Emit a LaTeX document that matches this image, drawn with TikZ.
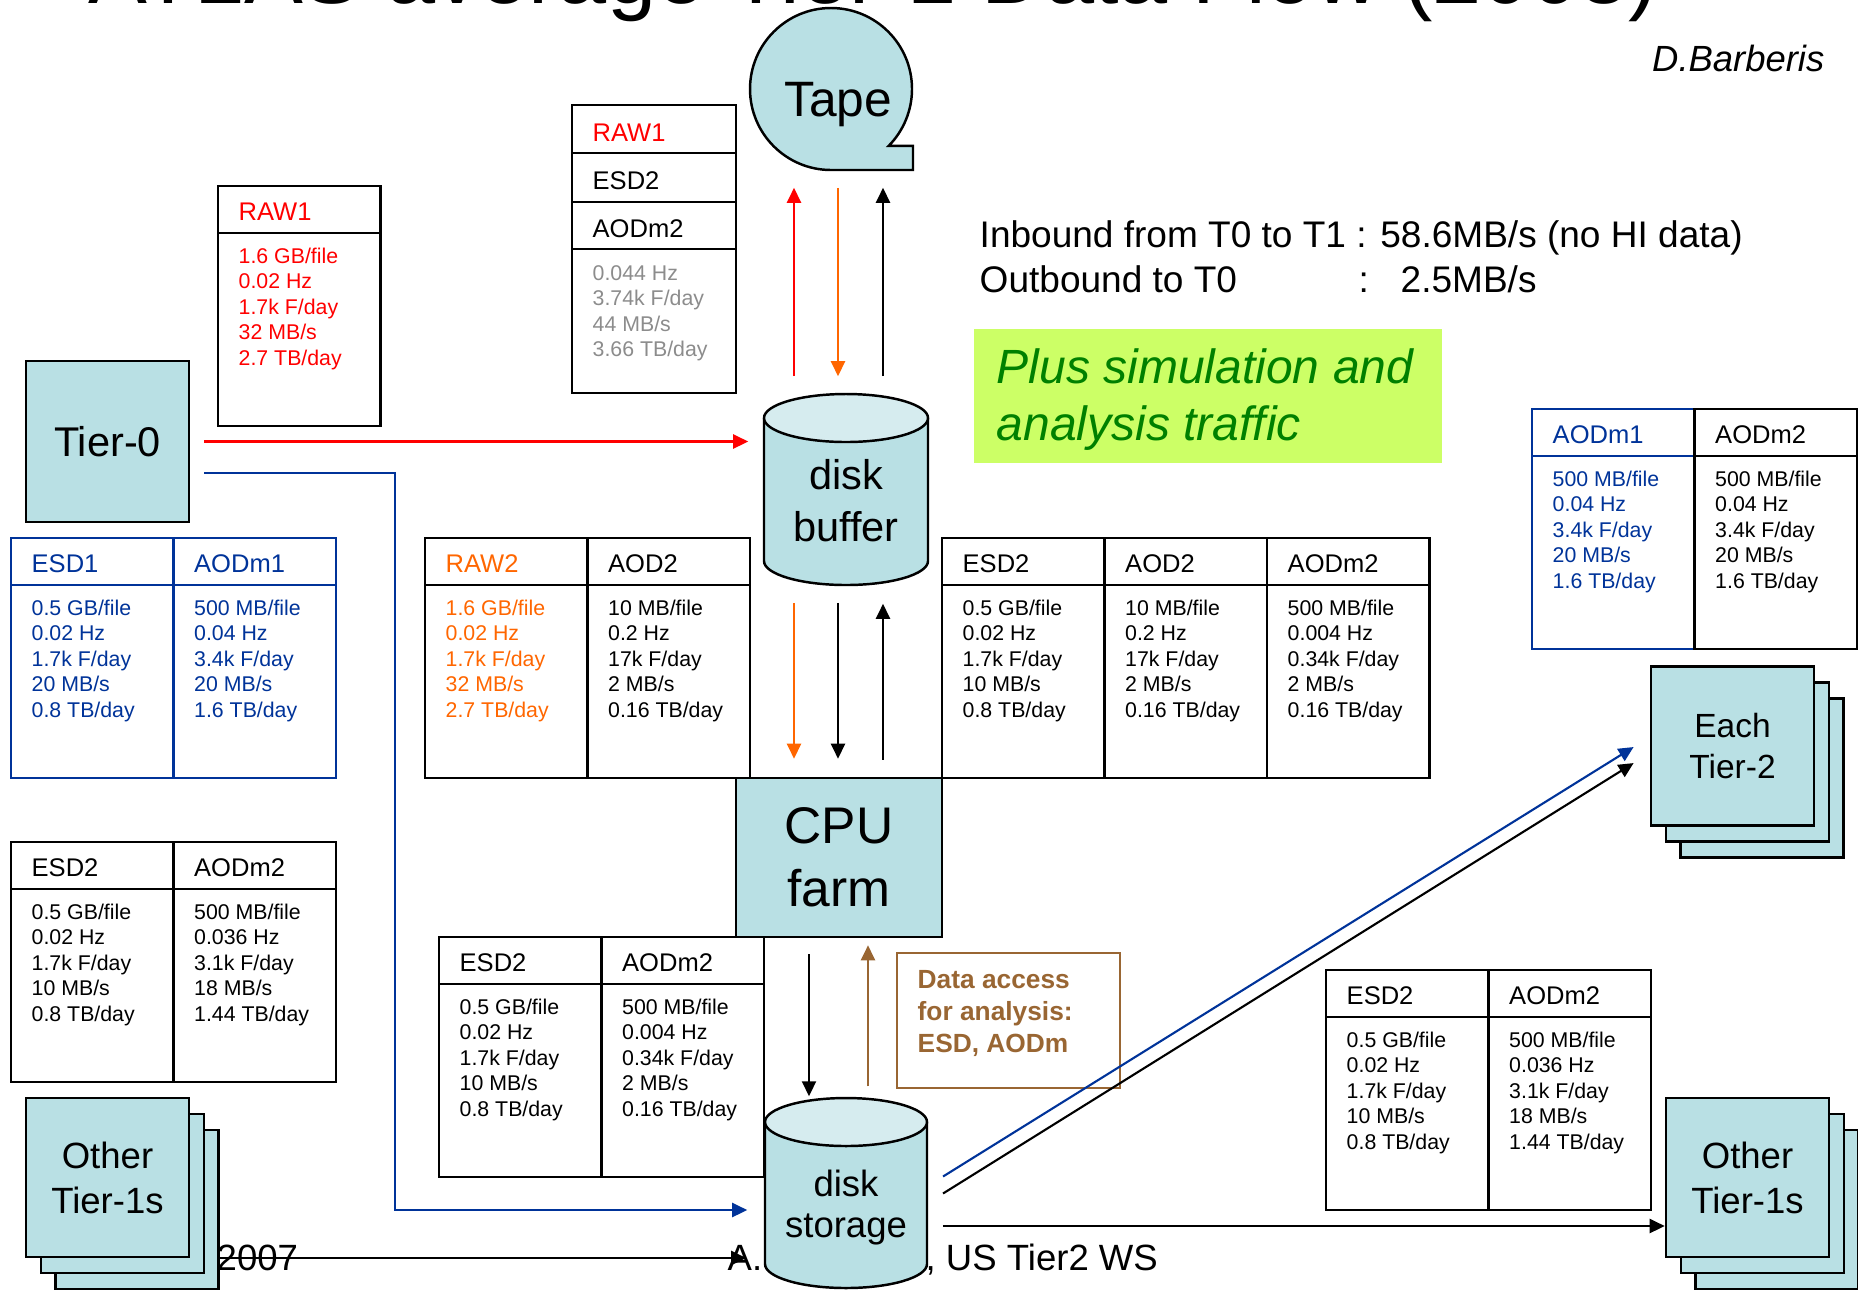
\documentclass[tikz,border=0pt]{standalone}
\usepackage{fontspec}
\setmainfont{Liberation Sans}
\usetikzlibrary{arrows.meta}

\definecolor{teal1}{RGB}{185,224,228}
\definecolor{teal2}{RGB}{214,236,239}
\definecolor{fblue}{RGB}{0,51,153}
\definecolor{fred}{RGB}{255,0,0}
\definecolor{forange}{RGB}{255,102,0}
\definecolor{fgray}{RGB}{140,140,140}
\definecolor{fbrown}{RGB}{153,102,51}
\definecolor{flime}{RGB}{204,255,102}
\definecolor{fgreen}{RGB}{0,128,0}

\newcommand\setfs[2]{\fontsize{#1pt}{#2pt}\selectfont}

\tikzset{
  site/.style={draw=black, line width=0.7pt, fill=teal1, inner sep=0pt, align=center},
  tblrule/.style={line width=0.6pt},
  hdr/.style={anchor=base west, inner sep=0pt, font=\setfs{7.26}{8.7}},
  dat/.style={anchor=base west, inner sep=0pt, font=\setfs{6.06}{7.3}},
  flow/.style={line width=0.6pt, -{Triangle[length=1.5mm,width=1.4mm]}},
  txt/.style={inner sep=0pt, anchor=base west},
}

% one column of a data table: name, left x, top y, border colour,
% header colour, header, data colour, data lines
\newcommand\dcol[8]{%
  \draw[tblrule,draw=#4] (#2,#3) rectangle ++(162.5,240);
  \draw[tblrule,draw=#4] (#2,#3+47) -- ++(162.5,0);
  \node[hdr,text=#5] (#1-h) at (#2+20,#3+34) {#6};
  \foreach \dline [count=\k] in {#8}
    \node[dat,text=#7] (#1-\k) at (#2+20,#3+51.4+25.6*\k) {\dline};
}

% a stack of three site boxes: name, centre x, centre y, font, text
\newcommand\sitestack[5]{%
  \node[site,minimum width=16.3mm,minimum height=15.9mm] (#1-3) at (#2+29.5,#3+32) {};
  \node[site,minimum width=16.3mm,minimum height=15.9mm] (#1-2) at (#2+15,#3+16) {};
  \node[site,minimum width=16.3mm,minimum height=15.9mm,font=#4] (#1) at (#2,#3) {#5};
}

% a disk cylinder: name, centre x, half width, top ellipse y, bottom ellipse y
\newcommand\diskcyl[5]{%
  \fill[teal1] (#2-#3,#4) -- (#2-#3,#5) arc[start angle=180,end angle=0,x radius=#3,y radius=24] -- (#2+#3,#4) -- cycle;
  \draw[line width=0.7pt] (#2-#3,#4) -- (#2-#3,#5) arc[start angle=180,end angle=0,x radius=#3,y radius=24] -- (#2+#3,#4);
  \draw[line width=0.7pt,fill=teal2] (#2,#4) ellipse[x radius=#3,y radius=24];
  \node[inner sep=0pt,minimum width=#3*0.2mm,minimum height=(#5-#4+48)*0.1mm] (#1) at (#2,{(#4+#5)/2}) {};
}

\begin{document}
\begin{tikzpicture}[x=0.01cm,y=-0.01cm]
\useasboundingbox (0,0) rectangle (1858,1290);
\clip (0,0) rectangle (1858,1290);

% heading (runs off the top edge) and author
\node[txt,font=\setfs{25.1}{30}] (title) at (88,3) {ATLAS average Tier-1 Data Flow (2008)};
\node[inner sep=0pt,anchor=base east,font=\setfs{10.36}{12}\itshape] (author) at (1825,71) {D.Barberis};

% footer, partly hidden behind the sites
\node[txt,font=\setfs{10.39}{12}] (foot1) at (216,1270) {2007};
\node[txt,font=\setfs{10.39}{12}] (foot2) at (727,1270) {A.};
\node[txt,font=\setfs{10.39}{12}] (foot3) at (925,1270) {, US Tier2 WS};

% tape reel
\filldraw[fill=teal1,line width=0.7pt] (831,170) arc[start angle=90,end angle=404.5,x radius=81,y radius=81]
  -- (913,145.8) -- (913,170) -- cycle;
\node[circle,inner sep=0pt,minimum size=16.2mm] (tape) at (831,89) {};
\node[inner sep=0pt,font=\setfs{14.14}{17}] (tapelbl) at (838,104.4) {Tape};

% data tables
\dcol{rawA}{218}{186}{black}{fred}{RAW1}{fred}{1.6 GB/file,0.02 Hz,1.7k F/day,32 MB/s,2.7 TB/day}

\draw[tblrule] (572,105) rectangle (736,393);
\draw[tblrule] (572,153) -- (736,153) (572,202) -- (736,202) (572,249) -- (736,249);
\node[hdr,text=fred] (tB-1) at (592,141) {RAW1};
\node[hdr] (tB-2) at (592,189) {ESD2};
\node[hdr] (tB-3) at (592,237) {AODm2};
\foreach \dline [count=\k] in {0.044 Hz,3.74k F/day,44 MB/s,3.66 TB/day}
  \node[dat,text=fgray] (tB-d\k) at (592,254.4+25.6*\k) {\dline};

\dcol{esd1}{11}{538}{fblue}{fblue}{ESD1}{fblue}{0.5 GB/file,0.02 Hz,1.7k F/day,20 MB/s,0.8 TB/day}
\dcol{aodm1a}{173.5}{538}{fblue}{fblue}{AODm1}{fblue}{500 MB/file,0.04 Hz,3.4k F/day,20 MB/s,1.6 TB/day}

\dcol{raw2}{425}{538}{black}{forange}{RAW2}{forange}{1.6 GB/file,0.02 Hz,1.7k F/day,32 MB/s,2.7 TB/day}
\dcol{aod2a}{587.5}{538}{black}{black}{AOD2}{black}{10 MB/file,0.2 Hz,17k F/day,2 MB/s,0.16 TB/day}

\dcol{esd2a}{942}{538}{black}{black}{ESD2}{black}{0.5 GB/file,0.02 Hz,1.7k F/day,10 MB/s,0.8 TB/day}
\dcol{aod2b}{1104.5}{538}{black}{black}{AOD2}{black}{10 MB/file,0.2 Hz,17k F/day,2 MB/s,0.16 TB/day}
\dcol{aodm2a}{1267}{538}{black}{black}{AODm2}{black}{500 MB/file,0.004 Hz,0.34k F/day,2 MB/s,0.16 TB/day}

\dcol{aodm1b}{1532}{409}{fblue}{fblue}{AODm1}{fblue}{500 MB/file,0.04 Hz,3.4k F/day,20 MB/s,1.6 TB/day}
\dcol{aodm2b}{1694.5}{409}{black}{black}{AODm2}{black}{500 MB/file,0.04 Hz,3.4k F/day,20 MB/s,1.6 TB/day}

\dcol{esd2b}{11}{842}{black}{black}{ESD2}{black}{0.5 GB/file,0.02 Hz,1.7k F/day,10 MB/s,0.8 TB/day}
\dcol{aodm2c}{173.5}{842}{black}{black}{AODm2}{black}{500 MB/file,0.036 Hz,3.1k F/day,18 MB/s,1.44 TB/day}

\dcol{esd2c}{439}{937}{black}{black}{ESD2}{black}{0.5 GB/file,0.02 Hz,1.7k F/day,10 MB/s,0.8 TB/day}
\dcol{aodm2d}{601.5}{937}{black}{black}{AODm2}{black}{500 MB/file,0.004 Hz,0.34k F/day,2 MB/s,0.16 TB/day}

\dcol{esd2d}{1326}{970}{black}{black}{ESD2}{black}{0.5 GB/file,0.02 Hz,1.7k F/day,10 MB/s,0.8 TB/day}
\dcol{aodm2e}{1488.5}{970}{black}{black}{AODm2}{black}{500 MB/file,0.036 Hz,3.1k F/day,18 MB/s,1.44 TB/day}

% rates summary
\node[txt,font=\setfs{10.53}{12}] (in1) at (979,247) {Inbound from T0 to T1 : 58.6MB/s (no HI data)};
\node[txt,font=\setfs{10.53}{12}] (out1) at (979,292) {Outbound to T0};
\node[txt,font=\setfs{10.53}{12}] (out2) at (1358,292) {:};
\node[txt,font=\setfs{10.53}{12}] (out3) at (1400,292) {2.5MB/s};

% note
\node[fill=flime,inner sep=0pt,minimum width=46.8mm,minimum height=13.4mm] (note) at (1208,396) {};
\node[txt,text=fgreen,font=\setfs{13.66}{16}\itshape] (note1) at (996,383) {Plus simulation and};
\node[txt,text=fgreen,font=\setfs{13.66}{16}\itshape] (note2) at (996,440) {analysis traffic};

% sites
\node[site,minimum width=16.3mm,minimum height=16.1mm,font=\setfs{11.81}{14}] (t0) at (107.5,441.5) {Tier-0};
\node[site,minimum width=20.6mm,minimum height=15.9mm,font=\setfs{14.65}{17.9}] (cpu) at (839,857.5) {CPU\\farm};

\diskcyl{buffer}{846}{82}{418}{561}
\node[inner sep=0pt,align=center,font=\setfs{11.81}{14.8}] (buflbl) at (846,501) {disk\\buffer};
\diskcyl{storage}{846}{81}{1122}{1264}
\node[inner sep=0pt,align=center,font=\setfs{10.39}{11.67}] (stlbl) at (846,1208) {disk\\storage};

\sitestack{t2}{1732.5}{746}{\setfs{9.53}{11.38}}{Each\\Tier-2}
\sitestack{ot1L}{107.5}{1177.5}{\setfs{10.39}{12.8}}{Other\\Tier-1s}
\sitestack{ot1R}{1747.5}{1177.5}{\setfs{10.39}{12.8}}{Other\\Tier-1s}

% analysis access note
\node[draw=fbrown,line width=0.6pt,inner sep=0pt,minimum width=22.3mm,minimum height=13.5mm] (access) at (1008.5,1020.5) {};
\node[txt,text=fbrown,font=\setfs{7.48}{9}\bfseries] (acc1) at (917,988) {Data access};
\node[txt,text=fbrown,font=\setfs{7.48}{9}\bfseries] (acc2) at (917,1020) {for analysis:};
\node[txt,text=fbrown,font=\setfs{7.48}{9}\bfseries] (acc3) at (917,1052) {ESD, AODm};

% flows between tape and disk buffer
\draw[flow,fred,shorten <=1.7mm,shorten >=1.7mm] (794,0 |- buffer.north) -- (794,0 |- tape.south);
\draw[flow,forange,shorten <=1.7mm,shorten >=1.7mm] (838,0 |- tape.south) -- (838,0 |- buffer.north);
\draw[flow,black,shorten <=1.7mm,shorten >=1.7mm] (883,0 |- buffer.north) -- (883,0 |- tape.south);

% flows between disk buffer and CPU farm
\draw[flow,forange,shorten <=1.7mm,shorten >=1.8mm] (794,0 |- buffer.south) -- (794,0 |- cpu.north);
\draw[flow,black,shorten <=1.7mm,shorten >=1.8mm] (838,0 |- buffer.south) -- (838,0 |- cpu.north);
\draw[flow,black,shorten <=1.7mm,shorten >=1.8mm] (883,0 |- cpu.north) -- (883,0 |- buffer.south);

% flows between CPU farm and disk storage
\draw[flow,black,shorten <=1.6mm,shorten >=0.1mm] (809,0 |- cpu.south) -- (809,0 |- storage.north);
\draw[flow,fbrown,shorten <=1.1mm,shorten >=0.7mm] (868,0 |- storage.north) -- (868,0 |- cpu.south);

% Tier-0 inputs
\draw[flow,fred,shorten <=1.4mm,shorten >=1.5mm] (t0.east) -- (buffer.west |- t0.east);
\draw[flow,fblue,shorten <=1.4mm,shorten >=1.7mm] (t0.east |- 0,473) -- (395,473) -- (395,1210) -- (storage.west |- 0,1210);

% exchanges with other Tier-1s and Tier-2s
\draw[flow,black,shorten >=1.8mm] (ot1L-3.east |- 0,1258) -- (storage.west |- 0,1258);
\draw[flow,black,shorten <=1.5mm] (storage.east |- 0,1226) -- (ot1R.west |- 0,1226);
\draw[flow,fblue,shorten <=1.8mm,shorten >=1.9mm] (storage.east |- 0,1186) -- (t2.west |- 0,737);
\draw[flow,black,shorten <=1.8mm,shorten >=1.9mm] (storage.east |- 0,1203) -- (t2.west |- 0,753);

\end{tikzpicture}
\end{document}
